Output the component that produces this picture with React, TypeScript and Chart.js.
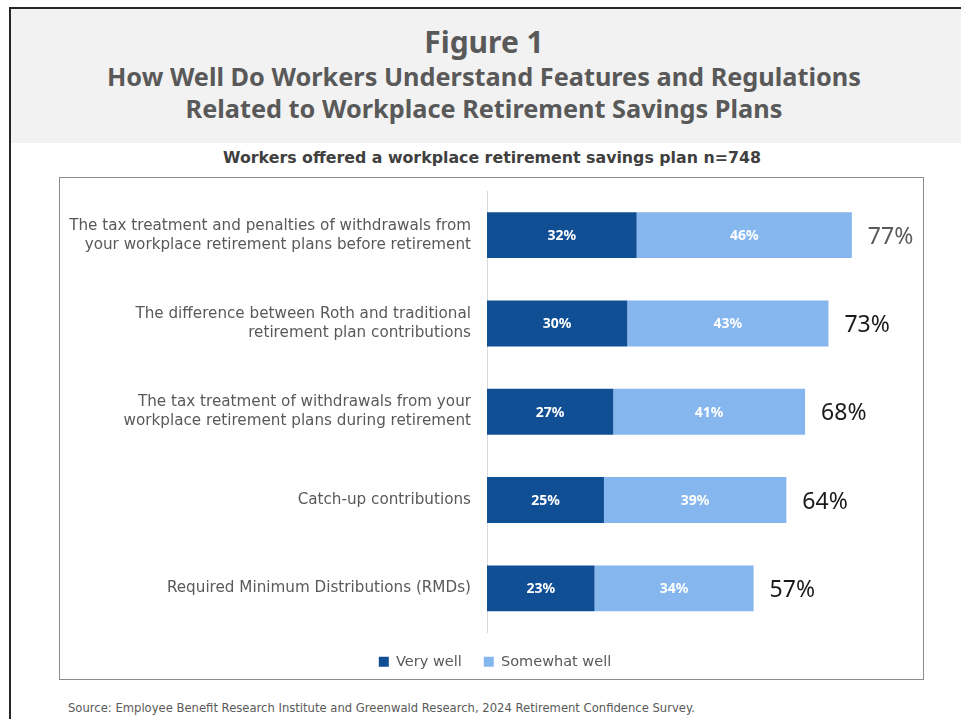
import React, { useEffect, useRef } from "react";
import { Chart, registerables } from "chart.js";

Chart.register(...registerables);

const categories: string[][] = [
  ["The tax treatment and penalties of withdrawals from", "your workplace retirement plans before retirement"],
  ["The difference between Roth and traditional", "retirement plan contributions"],
  ["The tax treatment of withdrawals from your", "workplace retirement plans during retirement"],
  ["Catch-up contributions"],
  ["Required Minimum Distributions (RMDs)"],
];
const veryWell: number[] = [32, 30, 27, 25, 23];
const somewhatWell: number[] = [46, 43, 41, 39, 34];
const totals: number[] = [77, 73, 68, 64, 57];
const seriesNames: string[] = ["Very well", "Somewhat well"];

const FONT = "'Noto Sans', 'DejaVu Sans', sans-serif";
const WIDE = "'DejaVu Sans', 'Noto Sans', sans-serif";
const DARK = "#114F95";
const LIGHT = "#85B6EE";

const labelPlugin = {
  id: "barLabels",
  afterDatasetsDraw(chart: any) {
    const ctx = chart.ctx;
    ctx.save();
    chart.data.datasets.forEach((ds: any, di: number) => {
      const meta = chart.getDatasetMeta(di);
      meta.data.forEach((bar: any, i: number) => {
        const v = ds.data[i];
        ctx.fillStyle = "#ffffff";
        ctx.font = `bold 14px ${FONT}`;
        ctx.textAlign = "center";
        ctx.textBaseline = "middle";
        ctx.fillText(`${v}%`, (bar.x + bar.base) / 2, bar.y + 1);
        if (di === chart.data.datasets.length - 1) {
          ctx.font = `23px ${FONT}`;
          ctx.textAlign = "left";
          ctx.fillStyle = i === 0 ? "#595959" : "#1a1a1a";
          ctx.fillText(`${totals[i]}%`, bar.x + 16, bar.y + 2);
        }
      });
    });
    ctx.restore();
  },
};

export default function App() {
  const ref = useRef<HTMLCanvasElement>(null);
  useEffect(() => {
    if (!ref.current) return;
    const chart = new Chart(ref.current, {
      type: "bar",
      data: {
        labels: categories,
        datasets: [
          { label: seriesNames[0], data: veryWell, backgroundColor: DARK, barPercentage: 1, categoryPercentage: 0.52 },
          { label: seriesNames[1], data: somewhatWell, backgroundColor: LIGHT, barPercentage: 1, categoryPercentage: 0.52 },
        ],
      },
      options: {
        indexAxis: "y",
        responsive: false,
        animation: false,
        layout: { padding: { top: 13, right: 5, bottom: 0, left: 20 } },
        scales: {
          x: {
            stacked: true,
            min: 0,
            max: 93,
            display: false,
          },
          y: {
            stacked: true,
            grid: { display: false, drawTicks: false },
            border: { display: true, color: "#d9d9d9", width: 1 },
            ticks: {
              color: "#595959",
              padding: 16,
              font: { family: WIDE, size: 15.2, lineHeight: 1.25 },
            },
            afterFit(scale: any) {
              scale.width = 419;
              scale.paddingTop = 0;
              scale.paddingBottom = 0;
            },
          },
        },
        plugins: {
          legend: {
            position: "bottom",
            labels: {
              boxWidth: 10,
              boxHeight: 10,
              padding: 22,
              color: "#595959",
              font: { family: WIDE, size: 14.5 },
            },
          },
          tooltip: { enabled: false },
        },
      },
      plugins: [labelPlugin],
    });
    return () => chart.destroy();
  }, []);

  return (
    <div style={{ position: "absolute", left: 0, top: 0, width: 961, height: 719, overflow: "hidden", background: "#fff", fontFamily: FONT }}>
      <div style={{ position: "absolute", left: 9, top: 7, width: 960, height: 720, borderLeft: "2px solid #262626", borderTop: "2px solid #262626" }} />
      <div style={{ position: "absolute", left: 11, top: 9, width: 960, height: 134, background: "#f2f2f2" }} />
      <div style={{ position: "absolute", left: 14, top: 24, width: 940, textAlign: "center", color: "#595959", fontWeight: 700 }}>
        <div style={{ fontSize: 30, lineHeight: "36px" }}>Figure 1</div>
        <div style={{ fontSize: 25.3, lineHeight: "32px" }}>How Well Do Workers Understand Features and Regulations</div>
        <div style={{ fontSize: 25.3, lineHeight: "32px" }}>Related to Workplace Retirement Savings Plans</div>
      </div>
      <div style={{ position: "absolute", left: 0, top: 147, width: 984, textAlign: "center", color: "#404040", fontWeight: 700, fontSize: 15.8, lineHeight: "22px", fontFamily: WIDE }}>
        Workers offered a workplace retirement savings plan n=748
      </div>
      <div style={{ position: "absolute", left: 59, top: 177, width: 863, height: 501, border: "1.5px solid #8c8c8c" }} />
      <div style={{ position: "absolute", left: 48, top: 178 }}>
        <canvas ref={ref} width={879} height={501} style={{ display: "block" }} />
      </div>
      <div style={{ position: "absolute", left: 68, top: 700, color: "#595959", fontSize: 11.6, lineHeight: "16px", whiteSpace: "nowrap", fontFamily: WIDE }}>
        Source: Employee Benefit Research Institute and Greenwald Research, 2024 Retirement Confidence Survey.
      </div>
    </div>
  );
}
